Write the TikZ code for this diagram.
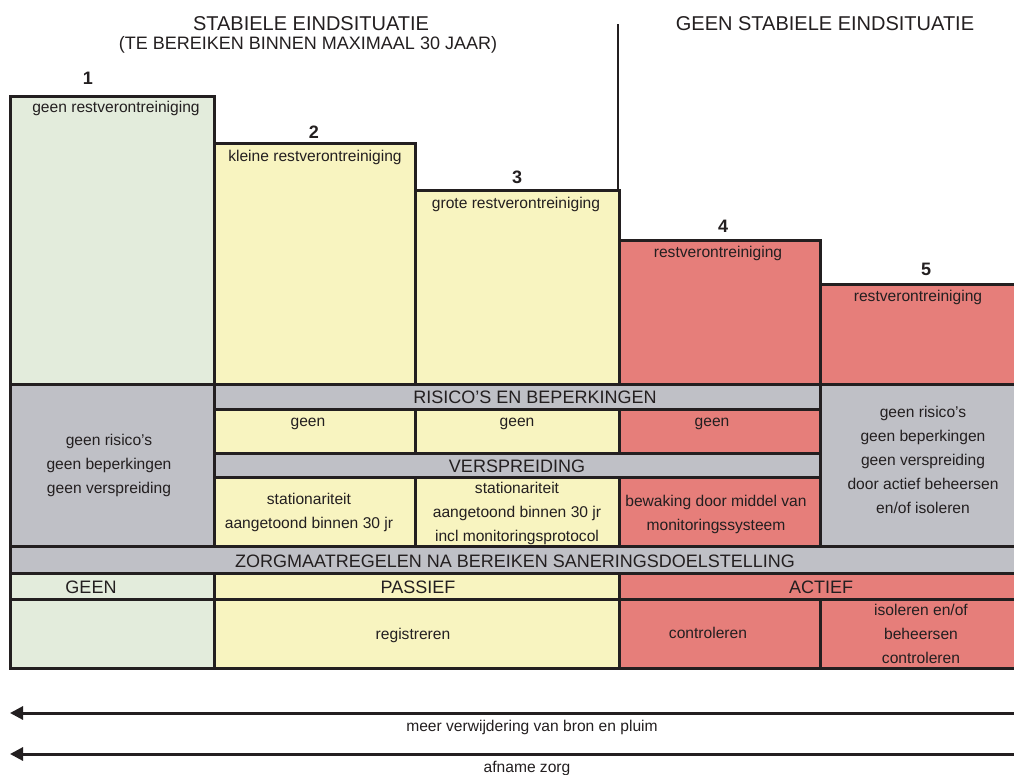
\documentclass[tikz,border=0pt]{standalone}
\usepackage{fontspec}
\setmainfont{Liberation Sans}
\usetikzlibrary{arrows.meta}
\definecolor{zorgink}{RGB}{35, 31, 32}
\definecolor{zorggreen}{RGB}{227, 236, 220}
\definecolor{zorgyellow}{RGB}{248, 244, 192}
\definecolor{zorgred}{RGB}{230, 126, 122}
\definecolor{zorggray}{RGB}{191, 192, 198}
\tikzset{
  cell/.style={
    draw=zorgink,
    line width=3pt
  },
  greencell/.style={cell, fill=zorggreen},
  yellowcell/.style={cell, fill=zorgyellow},
  redcell/.style={cell, fill=zorgred},
  graycell/.style={cell, fill=zorggray},
  celltext/.style={
    font=\fontsize{15.6}{24}\selectfont,
    text=zorgink,
    align=center,
    inner sep=0pt
  },
  headtext/.style={
    font=\fontsize{18}{20}\selectfont,
    text=zorgink,
    inner sep=0pt
  },
  titletext/.style={
    font=\fontsize{20}{22}\selectfont,
    text=zorgink,
    inner sep=0pt
  },
  boxnum/.style={
    font=\fontsize{18}{20}\selectfont\bfseries,
    text=zorgink,
    inner sep=0pt
  },
  trend/.style={
    draw=zorgink,
    line width=3pt,
    -{Triangle[length=13pt, width=13pt]}
  }
}

\begin{document}
\begin{tikzpicture}[x=1pt, y=-1pt]
  \clip (0,0) rectangle (1014,774);
  \fill[white] (0,0) rectangle (1014,774);

  % titels
  \node[titletext] (stabiel) at (311,24) {STABIELE EINDSITUATIE};
  \node[headtext] (termijn) at (308,45) {(TE BEREIKEN BINNEN MAXIMAAL 30 JAAR)};
  \node[titletext] (instabiel) at (825,24) {GEEN STABIELE EINDSITUATIE};
  \coordinate (scheidingtop) at (618,24);
  \coordinate (scheidingvoet) at (618,190);
  \draw[zorgink, line width=2.8pt] (scheidingtop) -- (scheidingvoet);

  % eindsituaties
  \draw[greencell] (10,96) rectangle (214,384);
  \draw[yellowcell] (214,143) rectangle (415,384);
  \draw[yellowcell] (415,190) rectangle (619,384);
  \draw[redcell] (619,240) rectangle (820,384);
  \draw[redcell] (820,284) rectangle (1030,384);
  \node[boxnum] (n1) at (88,78) {1};
  \node[boxnum] (n2) at (314,132) {2};
  \node[boxnum] (n3) at (517,177) {3};
  \node[boxnum] (n4) at (723,226) {4};
  \node[boxnum] (n5) at (926,269) {5};
  \node[celltext] (rest1) at (116,108) {geen restverontreiniging};
  \node[celltext] (rest2) at (315,157) {kleine restverontreiniging};
  \node[celltext] (rest3) at (516,204) {grote restverontreiniging};
  \node[celltext] (rest4) at (718,253) {restverontreiniging};
  \node[celltext] (rest5) at (918,297) {restverontreiniging};

  % risico's en verspreiding
  \draw[graycell] (10,384) rectangle (214,546);
  \draw[graycell] (214,384) rectangle (820,409);
  \draw[yellowcell] (214,409) rectangle (415,453);
  \draw[yellowcell] (415,409) rectangle (619,453);
  \draw[redcell] (619,409) rectangle (820,453);
  \draw[graycell] (214,453) rectangle (820,477);
  \draw[yellowcell] (214,477) rectangle (415,546);
  \draw[yellowcell] (415,477) rectangle (619,546);
  \draw[redcell] (619,477) rectangle (820,546);
  \draw[graycell] (820,384) rectangle (1030,546);
  \node[celltext] (geenlinks) at (109,465) {geen risico's\\geen beperkingen\\geen verspreiding};
  \node[headtext] (risico) at (535,397) {RISICO'S EN BEPERKINGEN};
  \node[celltext] (geen2) at (308,424) {geen};
  \node[celltext] (geen3) at (517,424) {geen};
  \node[celltext] (geen4) at (712,424) {geen};
  \node[headtext] (verspreiding) at (517,466) {VERSPREIDING};
  \node[celltext] (stat2) at (309,512) {stationariteit\\aangetoond binnen 30 jr};
  \node[celltext] (stat3) at (517,513) {stationariteit\\aangetoond binnen 30 jr\\incl monitoringsprotocol};
  \node[celltext] (bewaking) at (716,514) {bewaking door middel van\\monitoringssysteem};
  \node[celltext] (geenrechts) at (923,460) {geen risico's\\geen beperkingen\\geen verspreiding\\door actief beheersen\\en/of isoleren};

  % zorgmaatregelen
  \draw[graycell] (10,546) rectangle (1030,573);
  \draw[greencell] (10,573) rectangle (214,599);
  \draw[yellowcell] (214,573) rectangle (619,599);
  \draw[redcell] (619,573) rectangle (1030,599);
  \draw[greencell] (10,599) rectangle (214,668);
  \draw[yellowcell] (214,599) rectangle (619,668);
  \draw[redcell] (619,599) rectangle (820,668);
  \draw[redcell] (820,599) rectangle (1030,668);
  \node[headtext] (zorg) at (515,561) {ZORGMAATREGELEN NA BEREIKEN SANERINGSDOELSTELLING};
  \node[headtext] (geen) at (91,587) {GEEN};
  \node[headtext] (passief) at (418,587) {PASSIEF};
  \node[headtext] (actief) at (821,587) {ACTIEF};
  \node[celltext] (registreren) at (413,635) {registreren};
  \node[celltext] (controleren) at (708,633) {controleren};
  \node[celltext] (isoleren) at (921,634) {isoleren en/of\\beheersen\\controleren};

  % trendpijlen
  \coordinate (bronrechts) at (1014,713);
  \coordinate (bronlinks) at (10,713);
  \coordinate (zorgrechts) at (1014,754);
  \coordinate (zorglinks) at (10,754);
  \draw[trend] (bronrechts) -- (bronlinks);
  \draw[trend] (zorgrechts) -- (zorglinks);
  \node[celltext] (bronpluim) at (532,727) {meer verwijdering van bron en pluim};
  \node[celltext] (afname) at (527,768) {afname zorg};
\end{tikzpicture}
\end{document}
